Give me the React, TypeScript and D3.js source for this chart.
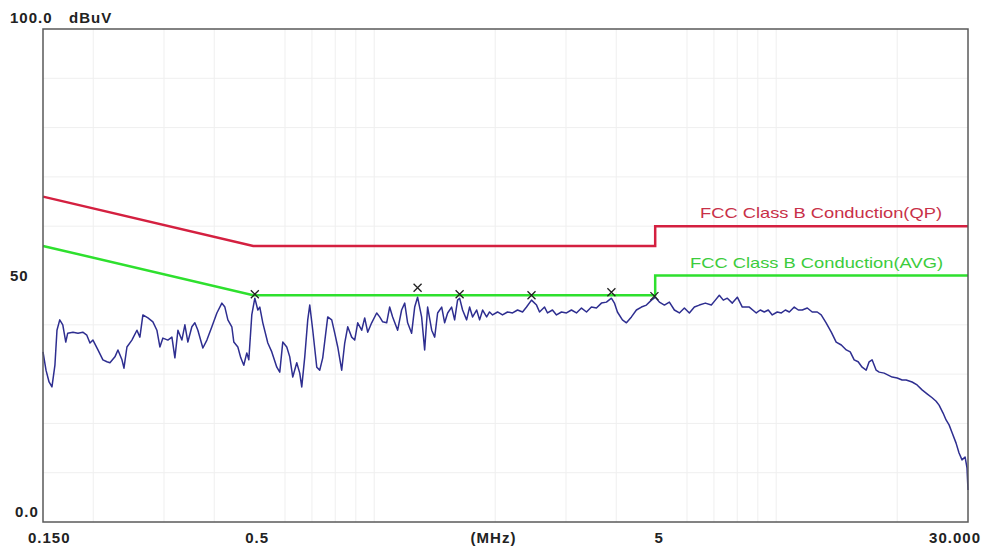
import React, { useRef, useEffect } from 'react';
import * as d3 from 'd3';

type Pt = [number, number];

// frequency (MHz), level (dBuV)
const traceLow: Pt[] = [
  [0.150, 34.5], [0.1526, 30.8], [0.1553, 28.4], [0.1579, 27.4], [0.1606, 31.8], [0.1625, 38.9],
  [0.1651, 41.0], [0.1680, 40.0], [0.1709, 36.5], [0.1728, 38.3], [0.1781, 38.5], [0.1833, 38.3],
  [0.1884, 38.5], [0.1928, 37.9], [0.1963, 36.3], [0.1997, 36.9], [0.2055, 34.9], [0.2114, 32.9],
  [0.2163, 32.5], [0.2201, 32.3], [0.2265, 33.5], [0.2304, 34.9], [0.2358, 32.9], [0.2385, 31.2],
  [0.2426, 35.5], [0.2496, 36.9], [0.2569, 38.9], [0.2613, 37.5], [0.2658, 42.0], [0.2736, 41.4],
  [0.2815, 40.6], [0.2880, 38.9], [0.2930, 35.5], [0.2981, 37.3], [0.3067, 36.9], [0.3139, 37.5],
  [0.3193, 33.3], [0.3249, 38.9], [0.3323, 36.9], [0.3381, 40.0], [0.3439, 36.5], [0.3519, 39.6],
  [0.3580, 40.4], [0.3642, 38.9], [0.3748, 35.3], [0.3835, 36.9], [0.3946, 39.6], [0.4061, 42.4],
  [0.4179, 44.4], [0.4251, 43.6], [0.4325, 41.0], [0.4424, 39.6], [0.4475, 36.5], [0.4579, 35.5],
  [0.4657, 33.3], [0.4738, 31.8], [0.4820, 34.3], [0.4876, 32.9], [0.4960, 42.0], [0.5047, 45.4],
  [0.5134, 43.0],
];

const traceMid: Pt[] = [
  [0.5193, 43.6], [0.5283, 40.4], [0.5437, 36.3], [0.5562, 34.5], [0.5724, 31.4], [0.5822, 30.4],
  [0.5923, 36.5], [0.6060, 35.5], [0.6165, 33.5], [0.6272, 29.4], [0.6417, 32.3], [0.6528, 30.2],
  [0.6603, 27.4], [0.6718, 33.5], [0.6834, 41.0], [0.6913, 44.0], [0.7033, 38.9], [0.7196, 31.4],
  [0.7320, 30.8], [0.7447, 33.3], [0.7663, 41.6], [0.7840, 41.0], [0.7977, 38.3], [0.8115, 35.5],
  [0.8301, 30.8], [0.8446, 36.3], [0.8592, 39.6], [0.8790, 37.5], [0.8943, 36.9], [0.9098, 40.4],
  [0.9308, 38.9], [0.9470, 41.4], [0.9634, 38.5], [0.9856, 40.4], [1.0143, 42.4], [1.0318, 41.6],
  [1.0497, 40.6], [1.0740, 40.4], [1.0925, 43.6], [1.1114, 41.6], [1.1437, 38.9], [1.170, 43.0],
  [1.191, 44.4], [1.211, 40.4], [1.239, 38.3], [1.261, 43.6], [1.282, 45.6], [1.312, 41.6],
  [1.335, 34.9], [1.358, 43.6], [1.390, 38.9], [1.414, 37.5], [1.438, 42.4], [1.472, 43.6],
  [1.497, 40.4], [1.523, 42.4], [1.558, 43.6], [1.585, 41.0], [1.612, 45.0],
];

const traceHigh: Pt[] = [
  [1.631, 45.4], [1.659, 43.0], [1.698, 41.0], [1.727, 43.6], [1.757, 41.6], [1.798, 43.0],
  [1.829, 41.0], [1.861, 43.0], [1.904, 41.6], [1.936, 42.6], [1.970, 42.0], [2.027, 42.6],
  [2.085, 42.0], [2.146, 42.6], [2.209, 42.4], [2.273, 43.0], [2.339, 42.6], [2.393, 43.6],
  [2.462, 45.0], [2.534, 44.0], [2.578, 42.6], [2.653, 43.6], [2.699, 42.4], [2.776, 43.0],
  [2.841, 42.0], [2.923, 42.6], [3.008, 42.4], [3.095, 43.0], [3.185, 42.4], [3.278, 43.4],
  [3.374, 42.6], [3.470, 43.6], [3.571, 43.4], [3.675, 44.4], [3.782, 44.6], [3.891, 45.4],
  [3.959, 44.4], [4.027, 42.6], [4.144, 41.0], [4.241, 40.4], [4.364, 41.6], [4.490, 43.0],
  [4.621, 43.6], [4.755, 44.0], [4.893, 45.0], [5.006, 45.6], [5.122, 44.6], [5.271, 44.0],
  [5.423, 44.6], [5.581, 43.0], [5.743, 42.4], [5.910, 43.4], [6.081, 42.4], [6.258, 43.6],
  [6.439, 44.0], [6.664, 44.4], [6.896, 44.0], [7.057, 45.0], [7.219, 46.0], [7.386, 45.0],
  [7.558, 45.4], [7.777, 44.4],
];

const traceTail: Pt[] = [
  [8.004, 45.6], [8.235, 43.6], [8.571, 43.6], [8.922, 42.4], [9.128, 43.0], [9.340, 42.6],
  [9.556, 43.0], [9.777, 42.0], [10.06, 42.6], [10.30, 42.4], [10.54, 43.0], [10.78, 42.6],
  [11.09, 43.6], [11.35, 43.0], [11.61, 43.0], [11.95, 43.4], [12.29, 42.6], [12.65, 42.6],
  [12.94, 42.0], [13.31, 40.4], [13.71, 38.5], [14.10, 36.5], [14.52, 35.9], [14.94, 34.9],
  [15.28, 34.5], [15.63, 32.9], [15.99, 32.5], [16.36, 31.4], [16.74, 30.8], [17.03, 32.5],
  [17.32, 32.9], [17.73, 30.8], [18.04, 30.4], [18.56, 30.2], [18.99, 29.8], [19.43, 29.4],
  [20.00, 29.2], [20.57, 28.8], [21.05, 28.8], [21.78, 28.4], [22.41, 27.8], [23.06, 26.8],
  [23.73, 26.0], [24.43, 25.2], [24.99, 24.5], [25.42, 23.7], [26.01, 22.1], [26.46, 20.7],
  [26.92, 19.7], [27.39, 18.1], [28.02, 16.0], [28.50, 14.0], [28.99, 12.6], [29.50, 13.2],
  [29.83, 11.0], [30.0, 6.5],
];

const qpLimit: Pt[] = [[0.15, 66], [0.5, 56], [5, 56], [5, 60], [30, 60]];
const avgLimit: Pt[] = [[0.15, 56], [0.5, 46], [5, 46], [5, 50], [30, 50]];

const peakMarkers: Pt[] = [
  [0.5047, 45.6], [1.282, 46.9], [1.631, 45.6], [2.462, 45.4], [3.891, 46.0], [4.978, 45.2],
];

const xTickLabels = [
  { v: 0.15, label: '0.150' },
  { v: 0.5, label: '0.5' },
  { v: 5, label: '5' },
  { v: 30, label: '30.000' },
];
const xUnit = '(MHz)';
const yUnit = 'dBuV';
const yTickLabels = [
  { v: 100, label: '100.0' },
  { v: 50, label: '50' },
  { v: 0, label: '0.0' },
];

const gridFreqs = [0.2, 0.3, 0.4, 0.6, 0.7, 0.8, 0.9, 1, 2, 3, 4, 6, 7, 8, 9, 10, 20];
const gridLevels = [10, 20, 30, 40, 60, 70, 80, 90];

const qpLabel = 'FCC Class B Conduction(QP)';
const avgLabel = 'FCC Class B Conduction(AVG)';

export default function App() {
  const svgRef = useRef<SVGSVGElement>(null);

  useEffect(() => {
    if (!svgRef.current) return;
    document.body.style.margin = '0';
    const svg = d3.select(svgRef.current);
    svg.selectAll('*').remove();

    const width = 982;
    const height = 547;
    const margin = { top: 29, right: 14, bottom: 25, left: 43 };

    const x = d3.scaleLog().domain([0.15, 30]).range([margin.left, width - margin.right]);
    const y = d3.scaleLinear().domain([0, 100]).range([height - margin.bottom, margin.top]);

    svg.append('rect').attr('width', width).attr('height', height).attr('fill', '#fff');

    // faint grid
    const grid = svg.append('g').attr('stroke', '#efefef').attr('stroke-width', 1);
    grid.selectAll('line.v')
      .data(gridFreqs)
      .enter()
      .append('line')
      .attr('x1', d => x(d))
      .attr('x2', d => x(d))
      .attr('y1', y(100))
      .attr('y2', y(0));
    grid.selectAll('line.h')
      .data(gridLevels)
      .enter()
      .append('line')
      .attr('x1', x(0.15))
      .attr('x2', x(30))
      .attr('y1', d => y(d))
      .attr('y2', d => y(d));

    const line = d3.line<Pt>().x(d => x(d[0])).y(d => y(d[1]));

    // limit lines
    svg.append('path')
      .datum(qpLimit)
      .attr('d', line)
      .attr('fill', 'none')
      .attr('stroke', '#d42040')
      .attr('stroke-width', 2.5);
    svg.append('path')
      .datum(avgLimit)
      .attr('d', line)
      .attr('fill', 'none')
      .attr('stroke', '#2ee02e')
      .attr('stroke-width', 2.5);

    // limit labels
    svg.append('text')
      .attr('x', 700)
      .attr('y', 218)
      .attr('textLength', 242)
      .attr('lengthAdjust', 'spacingAndGlyphs')
      .attr('fill', '#c83048')
      .style('font-family', '"Liberation Sans", Arial, sans-serif')
      .style('font-size', '15px')
      .text(qpLabel);
    svg.append('text')
      .attr('x', 690)
      .attr('y', 268)
      .attr('textLength', 253)
      .attr('lengthAdjust', 'spacingAndGlyphs')
      .attr('fill', '#3ccc3c')
      .style('font-family', '"Liberation Sans", Arial, sans-serif')
      .style('font-size', '15px')
      .text(avgLabel);

    // measured trace
    const trace = [...traceLow, ...traceMid, ...traceHigh, ...traceTail];
    svg.append('path')
      .datum(trace)
      .attr('d', line)
      .attr('fill', 'none')
      .attr('stroke', '#2e2e90')
      .attr('stroke-width', 1.5)
      .attr('stroke-linejoin', 'round');

    // peak markers
    const s = 4;
    svg.append('g')
      .attr('stroke', '#222')
      .attr('stroke-width', 1.3)
      .selectAll('path')
      .data(peakMarkers)
      .enter()
      .append('path')
      .attr('d', d => {
        const cx = x(d[0]);
        const cy = y(d[1]) - 3;
        return `M${cx - s},${cy - s}L${cx + s},${cy + s}M${cx - s},${cy + s}L${cx + s},${cy - s}`;
      });

    // frame
    svg.append('rect')
      .attr('x', x(0.15))
      .attr('y', y(100))
      .attr('width', x(30) - x(0.15))
      .attr('height', y(0) - y(100))
      .attr('fill', 'none')
      .attr('stroke', '#5a5a5a')
      .attr('stroke-width', 1.5);

    const labelFont = (t: d3.Selection<SVGTextElement, unknown, null, undefined>) =>
      t.attr('fill', '#222')
        .style('font-family', '"Liberation Sans", Arial, sans-serif')
        .style('font-size', '15px')
        .style('font-weight', 'bold')
        .style('letter-spacing', '1px');

    // x labels
    xTickLabels.forEach((t, i) => {
      const last = i === xTickLabels.length - 1;
      const anchor = i === 0 ? 'start' : last ? 'end' : 'middle';
      const px = i === 0 ? x(t.v) - 15 : last ? x(t.v) + 13 : x(t.v) + 4;
      svg.append('text')
        .attr('x', px)
        .attr('y', 543)
        .attr('text-anchor', anchor)
        .call(labelFont)
        .text(t.label);
    });
    svg.append('text')
      .attr('x', (x(0.15) + x(30)) / 2 - 12)
      .attr('y', 543)
      .attr('text-anchor', 'middle')
      .call(labelFont)
      .text(xUnit);

    // y labels
    yTickLabels.forEach(t => {
      const py = t.v === 100 ? y(t.v) - 6 : t.v === 0 ? y(t.v) - 5 : y(t.v) + 5;
      const px = t.v === 0 ? 15 : 10;
      svg.append('text')
        .attr('x', px)
        .attr('y', py)
        .call(labelFont)
        .text(t.label);
    });
    svg.append('text')
      .attr('x', 69)
      .attr('y', y(100) - 6)
      .call(labelFont)
      .text(yUnit);
  }, []);

  return <svg ref={svgRef} width={982} height={547} style={{ display: 'block' }} />;
}
